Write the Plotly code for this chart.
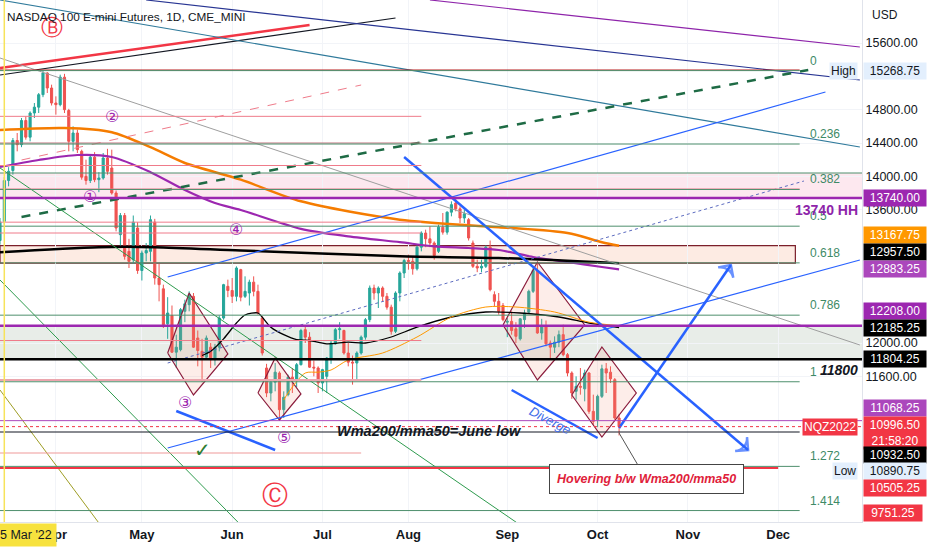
import pandas as pd
import plotly.graph_objects as go

# --- trading calendar (CME equity futures) ---------------------------------
HOLIDAYS = ["2022-04-15", "2022-05-30", "2022-06-20", "2022-07-04",
            "2022-09-05", "2022-11-24", "2022-12-26"]
days = [d for d in pd.bdate_range("2022-03-15", "2023-01-13")
        if d.strftime("%Y-%m-%d") not in HOLIDAYS]
day_index = {d.strftime("%Y-%m-%d"): i for i, d in enumerate(days)}


def xi(date):
    return day_index[date]


# --- daily candles NQZ2022, 15 Mar -> 10 Oct 2022 ----------------------------
opens = [13230, 13460, 13950, 14070, 14430, 14380, 14670, 14470, 14760, 14830,
         14980, 15240, 15060, 14880, 14860, 15190, 14790, 14420, 14520, 14300,
         14000, 13950, 14230, 13960, 13980, 14220, 14100, 13800, 13300, 13530,
         13100, 13000, 13380, 12870, 13080, 13100, 13450, 12780, 12650, 12230,
         12330, 11890, 11920, 12380, 12460, 12560, 12060, 11900, 11830, 11950,
         11800, 11950, 12300, 12680, 12630, 12560, 12880, 12560, 12600, 12730,
         12620, 12300, 11700, 11400, 11530, 11640, 11200, 11380, 11590, 11560,
         11740, 12160, 12070, 11710, 11700, 11520, 11600, 11820, 11990, 12160,
         12150, 11880, 11770, 11760, 11880, 12070, 12280, 12660, 12600, 12660,
         12560, 12430, 12140, 12600, 12840, 12990, 12980, 12890, 13150, 13320,
         13250, 13200, 13100, 13390, 13330, 13570, 13680, 13610, 13500, 13480,
         13200, 12920, 12900, 12920, 13150, 12580, 12500, 12450, 12250, 12260,
         12170, 12050, 12280, 12370, 12620, 12870, 12120, 12210, 12000, 11950,
         12010, 12100, 11860, 11640, 11420, 11480, 11450, 11640, 11180, 11080,
         11360, 11690, 11650, 11560, 11100]
highs = [13500, 13990, 14110, 14460, 14520, 14700, 14720, 14780, 14880, 15000,
         15268.75, 15250, 15100, 14960, 15220, 15230, 14810, 14600, 14560, 14320,
         14200, 14260, 14290, 14050, 14280, 14330, 14320, 13830, 13560, 13560,
         13250, 13530, 13450, 13110, 13200, 13530, 13490, 12950, 12700, 12550,
         12450, 12100, 12420, 12520, 12620, 12600, 12150, 12050, 12090, 12000,
         11990, 12330, 12710, 12760, 12780, 12920, 12890, 12800, 12760, 12800,
         12700, 12320, 11750, 11550, 11760, 11660, 11420, 11620, 11700, 11760,
         12170, 12200, 12130, 11790, 11720, 11690, 11830, 12030, 12180, 12250,
         12160, 12000, 11850, 11900, 12090, 12300, 12690, 12700, 12680, 12680,
         12600, 12460, 12620, 12860, 13010, 13060, 13040, 13170, 13340, 13360,
         13400, 13220, 13420, 13560, 13580, 13700, 13740, 13640, 13600, 13500,
         13230, 13000, 13000, 13170, 13230, 12620, 12600, 12480, 12300, 12380,
         12250, 12300, 12400, 12640, 12900, 12960, 12290, 12270, 12030, 12080,
         12150, 12220, 11880, 11660, 11600, 11700, 11680, 11650, 11380, 11380,
         11740, 11760, 11720, 11580, 11150]
lows = [13180, 13420, 13880, 14020, 14300, 14350, 14440, 14420, 14700, 14760,
        14950, 15000, 14850, 14740, 14840, 14760, 14300, 14300, 14280, 13960,
        13900, 13920, 13930, 13810, 13960, 14020, 13780, 13340, 13150, 13000,
        12900, 12950, 12830, 12750, 12980, 12980, 12700, 12500, 12180, 12050,
        11880, 11700, 11900, 12250, 12380, 11940, 11720, 11530, 11800, 11700,
        11730, 11900, 12280, 12550, 12480, 12500, 12500, 12540, 12450, 12560,
        12340, 11850, 11350, 11300, 11420, 11068.25, 11100, 11360, 11400, 11470,
        11730, 12000, 11700, 11600, 11400, 11420, 11400, 11750, 11980, 12050,
        11860, 11720, 11500, 11560, 11860, 12040, 12250, 12520, 12420, 12500,
        12400, 12100, 12120, 12500, 12780, 12880, 12820, 12870, 13100, 13150,
        13150, 13000, 13080, 13300, 13300, 13520, 13580, 13440, 13440, 13230,
        12900, 12850, 12850, 12900, 12620, 12440, 12340, 12260, 12070, 12100,
        12000, 12030, 12180, 12350, 12600, 12110, 12040, 11960, 11800, 11880,
        11950, 11840, 11600, 11330, 11320, 11380, 11300, 11150, 11020, 10990,
        11340, 11400, 11520, 11080, 10890.75]
closes = [13450, 13950, 14060, 14430, 14380, 14670, 14470, 14760, 14830, 14980,
          15240, 15060, 14880, 14860, 15190, 14800, 14420, 14520, 14320, 13990,
          13950, 14230, 13960, 13980, 14220, 14060, 13800, 13380, 13530, 13040,
          12980, 13450, 12870, 13080, 13110, 13480, 12780, 12700, 12220, 12360,
          11890, 11950, 12400, 12470, 12580, 11950, 11910, 11830, 12060, 11800,
          11950, 12300, 12700, 12630, 12560, 12900, 12550, 12620, 12730, 12620,
          12360, 11880, 11400, 11530, 11650, 11200, 11350, 11590, 11560, 11740,
          12150, 12070, 11710, 11700, 11520, 11680, 11820, 12000, 12160, 12170,
          11880, 11770, 11760, 11880, 12070, 12280, 12660, 12600, 12660, 12560,
          12430, 12140, 12600, 12840, 12990, 12980, 12890, 13150, 13320, 13250,
          13200, 13050, 13390, 13330, 13570, 13660, 13610, 13500, 13550, 13260,
          12920, 12900, 12920, 13150, 12640, 12500, 12380, 12280, 12260, 12150,
          12080, 12290, 12360, 12620, 12870, 12120, 12210, 11990, 11950, 12010,
          12100, 11860, 11640, 11400, 11480, 11470, 11640, 11180, 11060, 11360,
          11690, 11640, 11570, 11100, 10996.5]
candle_x = list(range(len(closes)))

# --- moving averages --------------------------------------------------------
ma100_dates = ["2022-03-15", "2022-04-05", "2022-04-21", "2022-05-04", "2022-05-16",
               "2022-06-03", "2022-06-24", "2022-07-28", "2022-08-30", "2022-09-22",
               "2022-10-04", "2022-10-10"]
ma100_vals = [14556, 14580, 14530, 14350, 14160, 13960, 13700, 13480, 13390, 13320,
              13210, 13167.75]
ma50_dates = ["2022-03-15", "2022-03-28", "2022-04-08", "2022-04-21", "2022-05-04",
              "2022-05-16", "2022-05-25", "2022-06-03", "2022-06-24", "2022-07-12",
              "2022-07-28", "2022-08-09", "2022-08-19", "2022-08-30", "2022-09-12",
              "2022-09-22", "2022-10-04", "2022-10-10"]
ma50_vals = [14112, 14196, 14256, 14232, 14050, 13836, 13680, 13596, 13370, 13280,
             13210, 13160, 13140, 13116, 13032, 12972, 12912, 12883.25]
ma200_dates = ["2022-03-15", "2022-04-18", "2022-05-05", "2022-06-03", "2022-07-28",
               "2022-08-30", "2022-10-10"]
ma200_vals = [13090, 13150, 13150, 13110, 13040, 13020, 12957.5]
wma_dates = ["2022-05-20", "2022-05-24", "2022-05-27", "2022-06-02", "2022-06-06",
             "2022-06-09", "2022-06-10", "2022-06-14", "2022-06-17", "2022-06-23",
             "2022-06-28", "2022-07-05", "2022-07-12", "2022-07-18", "2022-07-26",
             "2022-08-03", "2022-08-15", "2022-08-25", "2022-09-07", "2022-09-20",
             "2022-09-29", "2022-10-10"]
wma_vals = [11850, 11900, 12050, 12240, 12336, 12360, 12310, 12190, 12100, 12040,
            12030, 11990, 12010, 12000, 12072, 12190, 12312, 12372, 12360, 12312,
            12240, 12185.25]
mma_dates = ["2022-06-17", "2022-06-21", "2022-06-27", "2022-06-30", "2022-07-06",
             "2022-07-12", "2022-07-22", "2022-08-03", "2022-08-15", "2022-08-25",
             "2022-09-06", "2022-09-19", "2022-09-29", "2022-10-10"]
mma_vals = [11316, 11400, 11640, 11650, 11676, 11796, 11880, 12072, 12312, 12432,
            12432, 12372, 12250, 12208]

# --- fib retracement -----------------------------------------------------------
fib_high = 15268.75
fib_low = 11535
fib_levels = [0, 0.236, 0.382, 0.5, 0.618, 0.786, 1, 1.272, 1.414]
fib_labels = ["0", "0.236", "0.382", "0.5", "0.618", "0.786", "1", "1.272", "1.414"]

# --- trend lines: (start date, start price, end date, end price, color, width, dash)
trend_lines = [
    ("2022-03-15", 15300, "2022-06-28", 15816, "#f23645", 2.5, "solid"),
    ("2022-03-15", 15216, "2022-07-27", 15900, "#131722", 1.2, "solid"),
    ("2022-05-03", 16116, "2022-12-29", 15156, "#283593", 1.2, "solid"),
    ("2022-08-08", 16116, "2022-12-29", 15552, "#8e24aa", 1.2, "solid"),
    ("2022-03-15", 16116, "2022-12-29", 14352, "#2f7a9b", 1.2, "solid"),
    ("2022-03-15", 15420, "2022-12-29", 11976, "#9e9e9e", 1.0, "solid"),
    ("2022-03-22", 13512, "2022-12-12", 15276, "#1e6b45", 2.5, "dash"),
    ("2022-03-22", 14196, "2022-07-15", 15096, "#ef7b8a", 1.0, "dash"),
    ("2022-05-10", 12792, "2022-12-16", 15012, "#2962ff", 1.2, "solid"),
    ("2022-05-10", 10740, "2022-12-29", 12996, "#2962ff", 1.2, "solid"),
    ("2022-05-10", 11760, "2022-12-09", 13944, "#5c6bc0", 1.0, "dot"),
    ("2022-03-15", 14100, "2022-09-07", 9816, "#2e9b4e", 1.0, "solid"),
    ("2022-03-15", 12756, "2022-06-03", 9816, "#2e9b4e", 1.0, "solid"),
    ("2022-03-15", 11436, "2022-04-18", 9840, "#9e9d24", 1.0, "solid"),
    ("2022-05-12", 11184, "2022-06-15", 10716, "#2962ff", 2.5, "solid"),
    ("2022-09-02", 11436, "2022-10-03", 10860, "#2962ff", 2.5, "solid"),
]
arrow_lines = [
    ("2022-07-29", 14232, "2022-11-21", 10716),
    ("2022-10-10", 10980, "2022-11-15", 12936),
]

# --- horizontal levels: (price, end date, color, width, dash) -----------------
h_levels = [
    (15276, "2022-12-08", "#b71c1c", 1.0, "solid"),
    (14720, "2022-08-04", "#ef7b8a", 1.0, "solid"),
    (14400, "2022-08-04", "#c0737d", 1.0, "solid"),
    (14130, "2022-08-04", "#ef7b8a", 1.0, "solid"),
    (14040, "2023-01-06", "#4e8f6d", 1.0, "solid"),
    (13848, "2022-12-08", "#ef7b8a", 1.0, "solid"),
    (13740, "2023-01-06", "#9c27b0", 2.5, "solid"),
    (13450, "2022-08-04", "#ef7b8a", 1.0, "solid"),
    (13320, "2022-08-04", "#ef7b8a", 1.0, "solid"),
    (12208, "2023-01-06", "#9c27b0", 2.5, "solid"),
    (12030, "2022-08-04", "#ef7b8a", 1.0, "solid"),
    (11804.25, "2023-01-06", "#000000", 2.5, "solid"),
    (11556, "2022-08-04", "#eba5ad", 2.0, "solid"),
    (11068.25, "2023-01-06", "#ab47bc", 1.0, "solid"),
    (10996.5, "2023-01-06", "#f23645", 1.0, "dot"),
    (10932, "2022-12-08", "#131722", 1.2, "solid"),
    (10680, "2022-07-15", "#ef9a9a", 1.2, "solid"),
    (10500, "2022-12-01", "#f23645", 2.0, "solid"),
]
# bands: (top, bottom, end date, fill, border)
bands = [
    (14040, 13740, "2023-01-06", "rgba(233,30,99,0.10)", None),
    (13167.75, 12957.5, "2022-12-07", "rgba(244,143,100,0.18)", "#7b1f2a"),
    (12208, 11804.25, "2023-01-06", "rgba(110,140,110,0.16)", None),
]
# diamonds: left, top, right, bottom -> (date, price)
diamonds = [
    [("2022-05-10", 11880), ("2022-05-17", 12600), ("2022-05-31", 11868), ("2022-05-18", 11376)],
    [("2022-06-09", 11400), ("2022-06-15", 11820), ("2022-06-24", 11388), ("2022-06-16", 11076)],
    [("2022-08-31", 12216), ("2022-09-13", 12972), ("2022-09-28", 12216), ("2022-09-13", 11556)],
    [("2022-09-23", 11376), ("2022-10-04", 11952), ("2022-10-14", 11400), ("2022-10-04", 10872)],
]
# wave marks: (text, date, price, color, size)
wave_marks = [
    ("Ⓑ", "2022-03-31", 15792, "#f23645", 22),
    ("②", "2022-04-21", 14724, "#9c27b0", 16),
    ("①", "2022-04-13", 13764, "#9c27b0", 16),
    ("④", "2022-06-02", 13368, "#9c27b0", 16),
    ("③", "2022-05-16", 11292, "#9c27b0", 16),
    ("⑤", "2022-06-17", 10872, "#9c27b0", 16),
    ("Ⓒ", "2022-06-15", 10176, "#f23645", 26),
]
# price scale labels: (text, price, background, text colour, shift px)
price_tags = [
    ("15268.75", 15268.75, "#e3effd", "#131722", 0),
    ("13740.00", 13740, "#9c27b0", "white", 0),
    ("13167.75", 13167.75, "#ff9800", "white", 11),
    ("12957.50", 12957.5, "#000000", "white", 11),
    ("12883.25", 12883.25, "#ab47bc", "white", 0),
    ("12208.00", 12208, "#9c27b0", "white", 15),
    ("12185.25", 12185.25, "#000000", "white", 0),
    ("11804.25", 11804.25, "#000000", "white", 0),
    ("11068.25", 11068.25, "#ab47bc", "white", 13),
    ("10996.50<br>21:58:20", 10996.5, "#f23645", "white", -6),
    ("10932.50", 10932.5, "#000000", "white", -23),
    ("10890.75", 10890.75, "#e3effd", "#131722", -36),
    ("10505.25", 10505.25, "#f23645", "white", -20),
]

Y_RANGE = [9852, 16116]
X_RANGE = [0, 200.5]
FONT = "Liberation Sans"

fig = go.Figure()

# bands and horizontal levels
for top, bottom, end, fill, border in bands:
    fig.add_shape(type="rect", x0=0, x1=xi(end), y0=bottom, y1=top, xref="x", yref="y",
                  fillcolor=fill, layer="below",
                  line=dict(color=border or "rgba(0,0,0,0)", width=1.2))
for price, end, color, width, dash in h_levels:
    fig.add_shape(type="line", x0=0, x1=xi(end), y0=price, y1=price, xref="x", yref="y",
                  line=dict(color=color, width=width, dash=dash))
for lvl, lab in zip(fib_levels, fib_labels):
    p = fib_high - lvl * (fib_high - fib_low)
    fig.add_shape(type="line", x0=0, x1=xi("2022-12-08"), y0=p, y1=p, xref="x", yref="y",
                  line=dict(color="#4e8f6d", width=1))
    fig.add_annotation(x=xi("2022-12-12"), y=p, text=lab, showarrow=False, xanchor="left",
                       yanchor="bottom", yshift=1, font=dict(family=FONT, size=12, color="#3e8a66"))

# crosshair date line
fig.add_shape(type="line", x0=xi("2022-03-16"), x1=xi("2022-03-16"), y0=0, y1=1,
              xref="x", yref="paper", line=dict(color="#f7e35a", width=1.5))

# diamonds
for d in diamonds:
    xs = [xi(a) for a, _ in d] + [xi(d[0][0])]
    ys = [b for _, b in d] + [d[0][1]]
    fig.add_trace(go.Scatter(x=xs, y=ys, mode="lines", fill="toself",
                             fillcolor="rgba(244,143,120,0.16)",
                             line=dict(color="#8b1c3c", width=1.2), hoverinfo="skip"))

# candles
fig.add_trace(go.Candlestick(
    x=candle_x, open=opens, high=highs, low=lows, close=closes,
    increasing=dict(line=dict(color="#26a69a", width=1), fillcolor="#26a69a"),
    decreasing=dict(line=dict(color="#ef5350", width=1), fillcolor="#ef5350"),
    whiskerwidth=0))

# moving averages
for dates, vals, color, width in [
        (ma100_dates, ma100_vals, "#f57c00", 2.5),
        (ma50_dates, ma50_vals, "#9c27b0", 2.2),
        (ma200_dates, ma200_vals, "#000000", 2.5),
        (wma_dates, wma_vals, "#000000", 1.3),
        (mma_dates, mma_vals, "#ff9800", 1.0)]:
    fig.add_trace(go.Scatter(x=[xi(d) for d in dates], y=vals, mode="lines",
                             line=dict(color=color, width=width, shape="spline", smoothing=0.8),
                             hoverinfo="skip"))

# trend lines
for d0, p0, d1, p1, color, width, dash in trend_lines:
    fig.add_trace(go.Scatter(x=[xi(d0), xi(d1)], y=[p0, p1], mode="lines",
                             line=dict(color=color, width=width, dash=dash), hoverinfo="skip"))
for d0, p0, d1, p1 in arrow_lines:
    fig.add_trace(go.Scatter(x=[xi(d0), xi(d1)], y=[p0, p1], mode="lines+markers",
                             line=dict(color="#2962ff", width=2.5),
                             marker=dict(symbol="arrow-wide-open", size=[0, 13], angleref="previous",
                                         color="#2962ff", line=dict(color="#2962ff", width=2.5)),
                             hoverinfo="skip"))

# wave labels
for text, d, p, color, size in wave_marks:
    fig.add_annotation(x=xi(d), y=p, text=text, showarrow=False,
                       font=dict(family="DejaVu Sans", size=size, color=color))
fig.add_annotation(x=xi("2022-05-20"), y=10716, text="<b>✓</b>", showarrow=False,
                   font=dict(family="DejaVu Sans", size=20, color="#2e7d32"))

# notes on the chart
fig.add_annotation(x=xi("2022-08-08"), y=10945, text="<b><i>Wma200/mma50=June low</i></b>",
                   showarrow=False, font=dict(family=FONT, size=14.5, color="#131722"))
fig.add_annotation(x=xi("2022-09-16"), y=11076, text="<i>Diverge</i>", showarrow=False,
                   textangle=28, font=dict(family=FONT, size=13, color="#3f6ee8"))
fig.add_annotation(x=xi("2022-10-10"), y=10920, ax=27, ay=46,
                   text="<b><i>Hovering b/w Wma200/mma50</i></b>", showarrow=True,
                   arrowhead=0, arrowwidth=1, arrowcolor="#555555",
                   bgcolor="white", bordercolor="#444444", borderwidth=1, borderpad=7,
                   font=dict(family=FONT, size=12.5, color="#e0213a"))
fig.add_annotation(x=xi("2022-12-29"), y=13600, text="<b>13740 HH</b>", showarrow=False,
                   xanchor="right", font=dict(family=FONT, size=14, color="#8e24aa"))
fig.add_annotation(x=xi("2022-12-30"), y=12030, text="Mar2021 Lo-12208", showarrow=False,
                   xanchor="right", font=dict(family=FONT, size=14, color="#333333"))
fig.add_annotation(x=xi("2022-12-29"), y=11680, text="<b><i>11800</i></b>", showarrow=False,
                   xanchor="right", font=dict(family=FONT, size=14, color="#131722"))
fig.add_annotation(x=xi("2022-12-30"), y=10840, text="<b>10932=1.272</b>", showarrow=False,
                   xanchor="right", font=dict(family=FONT, size=15, color="#131722"))
fig.add_annotation(x=xi("2022-12-30"), y=10410, text="<b><i>10500=1.272</i></b>", showarrow=False,
                   xanchor="right", font=dict(family=FONT, size=15, color="#f23645"))

# price scale tags
for text, price, bg, fg, shift in price_tags:
    fig.add_annotation(xref="paper", x=1, y=price, yshift=shift, text=text, showarrow=False,
                       xanchor="left", xshift=1, width=60, bgcolor=bg, borderpad=1,
                       font=dict(family=FONT, size=12, color=fg))
fig.add_annotation(xref="paper", x=1, y=Y_RANGE[0], yshift=9, text="9751.25", showarrow=False,
                   xanchor="left", xshift=1, width=56, bgcolor="#f23645", borderpad=1,
                   font=dict(family=FONT, size=12, color="white"))
for text, price, shift, bg, fg in [("High", 15268.75, 0, "#e3effd", "#131722"),
                                   ("NQZ2022", 10996.5, 0, "#f23645", "white"),
                                   ("Low", 10890.75, -36, "#e3effd", "#131722")]:
    fig.add_annotation(xref="paper", x=1, y=price, yshift=shift, text=text, showarrow=False,
                       xanchor="right", xshift=-4, bgcolor=bg, borderpad=1,
                       font=dict(family=FONT, size=12, color=fg))
fig.add_annotation(xref="paper", yref="paper", x=1, y=1, xshift=8, yshift=-6, text="USD",
                   showarrow=False, xanchor="left", yanchor="top",
                   font=dict(family=FONT, size=12, color="#131722"))
fig.add_annotation(xref="paper", yref="paper", x=0, y=1, xshift=5, yshift=-8,
                   text="NASDAQ 100 E-mini Futures, 1D, CME_MINI", showarrow=False,
                   xanchor="left", yanchor="top", font=dict(family=FONT, size=11.8, color="#131722"))
fig.add_annotation(xref="paper", yref="paper", x=0, y=0, xshift=-5, yshift=-1, text="5 Mar '22",
                   showarrow=False, xanchor="left", yanchor="top", bgcolor="#f7e23e", borderpad=4,
                   font=dict(family=FONT, size=12.5, color="#131722"))

# month ticks
month_starts = []
seen = set()
for i, d in enumerate(days):
    key = (d.year, d.month)
    if key not in seen:
        seen.add(key)
        if 0 < i <= X_RANGE[1]:
            month_starts.append((i, d.strftime("%b")))

fig.update_layout(
    width=932, height=550, showlegend=False,
    margin=dict(l=0, r=70, t=0, b=28),
    paper_bgcolor="white", plot_bgcolor="white",
    xaxis=dict(range=X_RANGE, rangeslider=dict(visible=False),
               tickvals=[m[0] for m in month_starts], ticktext=[m[1] for m in month_starts],
               tickfont=dict(family=FONT, size=13, color="#131722", weight=600),
               showgrid=True, gridcolor="#f2f4f8", zeroline=False,
               showline=True, linecolor="#e0e3eb", ticks=""),
    yaxis=dict(range=Y_RANGE, side="right",
               tickvals=[15600, 14800, 14400, 14000, 13600, 12000, 11600],
               tickformat=".2f", tickfont=dict(family=FONT, size=12.5, color="#131722"),
               showgrid=True, gridcolor="#f2f4f8", zeroline=False,
               showline=True, linecolor="#e0e3eb", ticks=""),
)

fig.write_html("out.html", config={"displayModeBar": False},
               post_script="document.body.style.margin = '0';")
